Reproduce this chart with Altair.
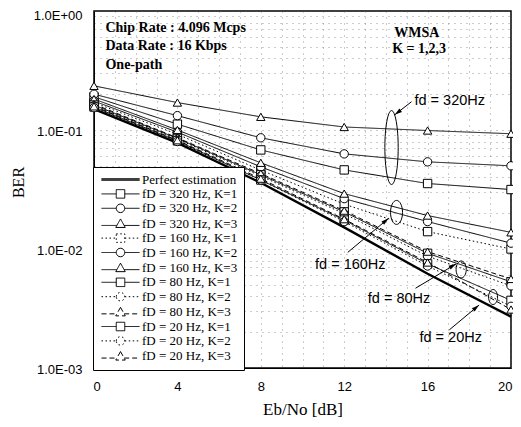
import altair as alt
import pandas as pd

# ---------------- data ----------------
EBNO = [0, 4, 8, 12, 16, 20]

SERIES = [
    "Perfect estimation",
    "fD = 320 Hz, K=1", "fD = 320 Hz, K=2", "fD = 320 Hz, K=3",
    "fD = 160 Hz, K=1", "fD = 160 Hz, K=2", "fD = 160 Hz, K=3",
    "fD = 80 Hz, K=1", "fD = 80 Hz, K=2", "fD = 80 Hz, K=3",
    "fD = 20 Hz, K=1", "fD = 20 Hz, K=2", "fD = 20 Hz, K=3",
]

BER_PERFECT = [0.150, 0.078, 0.036, 0.0152, 0.0062, 0.0027]
BER_320_K1 = [0.190, 0.112, 0.068, 0.0462, 0.0355, 0.0316]
BER_320_K2 = [0.200, 0.132, 0.086, 0.063, 0.054, 0.050]
BER_320_K3 = [0.235, 0.170, 0.129, 0.106, 0.099, 0.093]
BER_160_K1 = [0.170, 0.092, 0.046, 0.0238, 0.0140, 0.0100]
BER_160_K2 = [0.175, 0.096, 0.049, 0.0265, 0.0170, 0.0112]
BER_160_K3 = [0.182, 0.100, 0.053, 0.0292, 0.0191, 0.0138]
BER_80_K1 = [0.162, 0.085, 0.042, 0.0205, 0.0092, 0.0053]
BER_80_K2 = [0.160, 0.084, 0.041, 0.0198, 0.0087, 0.0049]
BER_80_K3 = [0.165, 0.086, 0.043, 0.0210, 0.0095, 0.0056]
BER_20_K1 = [0.156, 0.081, 0.038, 0.0175, 0.0075, 0.0037]
BER_20_K2 = [0.154, 0.080, 0.038, 0.0170, 0.0072, 0.0033]
BER_20_K3 = [0.158, 0.082, 0.039, 0.0178, 0.0077, 0.0031]

BER_ALL = [BER_PERFECT, BER_320_K1, BER_320_K2, BER_320_K3,
           BER_160_K1, BER_160_K2, BER_160_K3,
           BER_80_K1, BER_80_K2, BER_80_K3,
           BER_20_K1, BER_20_K2, BER_20_K3]

X_GRID = list(range(0, 21))

NOTE_TEXT = ["Chip Rate : 4.096 Mcps", "Data Rate : 16 Kbps", "One-path"]
NOTE_X = [0.55, 0.55, 0.55]
NOTE_Y = [0.72, 0.51, 0.355]

WMSA_TEXT = ["WMSA", "K = 1,2,3"]
WMSA_X = [14.4, 14.3]
WMSA_Y = [0.654, 0.48]

FD_TEXT = ["fd = 320Hz", "fd = 160Hz", "fd = 80Hz", "fd  = 20Hz"]
FD_X = [15.37, 10.6, 13.13, 15.61]
FD_Y = [0.176, 0.00729, 0.00378, 0.00178]

ARROW_X1 = [15.23, 12.17, 15.42, 17.04]
ARROW_Y1 = [0.173, 0.00937, 0.00468, 0.00209]
ARROW_X2 = [14.42, 14.13, 17.37, 18.47]
ARROW_Y2 = [0.134, 0.0181, 0.0075, 0.00338]

ELLIPSE_X = [14.27, 14.51, 17.61, 19.14]
ELLIPSE_Y = [0.0712, 0.0203, 0.00673, 0.00395]

# ---------------- styles ----------------
SOLID, DOT, DASH = [1, 0], [1.5, 2.5], [5, 3]
LINE_DASH = [SOLID, SOLID, SOLID, SOLID, DOT, SOLID, SOLID,
             SOLID, DOT, DASH, SOLID, DOT, DASH]
PLOT_SHAPES = ["square", "circle", "triangle-up"] * 4

P_LINE = "M-3.8,-0.2H3.8M-3.8,0H3.8M-3.8,0.2H3.8"
P_SQ = "M-3.8,0H-0.85M0.85,0H3.8M-0.85,-0.85H0.85V0.85H-0.85Z"
P_CI = "M-3.8,0H-0.85M0.85,0H3.8M-0.85,0A0.85,0.85 0 1,1 0.85,0A0.85,0.85 0 1,1 -0.85,0Z"
P_TR = "M-3.8,0.35H-0.73M0.73,0.35H3.8M0,-0.95L0.95,0.75H-0.95Z"
LEGEND_PATHS = [P_LINE] + [P_SQ, P_CI, P_TR] * 4

ARROW_ANGLE = [232.6, 50.3, 59.7, 50.2]
ARROW_PATH = "M0,0L0.45,1.6L-0.45,1.6Z"
ELLIPSE_PATH = [
    "M0,-1A0.18,1 0 1,1 0,1A0.18,1 0 1,1 0,-1Z",
    "M0,-1A0.5,1 0 1,1 0,1A0.5,1 0 1,1 0,-1Z",
    "M0,-1A0.6,1 0 1,1 0,1A0.6,1 0 1,1 0,-1Z",
    "M0,-1A0.6,1 0 1,1 0,1A0.6,1 0 1,1 0,-1Z",
]
ELLIPSE_SIZE = [74 ** 2, 24 ** 2, 17 ** 2, 15 ** 2]

# ---------------- tables ----------------
rows = []
for name, vals in zip(SERIES, BER_ALL):
    for x, v in zip(EBNO, vals):
        rows.append({"series": name, "ebno": x, "ber": v})
df = pd.DataFrame(rows)

notes = pd.DataFrame({"x": NOTE_X, "y": NOTE_Y, "t": NOTE_TEXT})
wmsa = pd.DataFrame({"x": WMSA_X, "y": WMSA_Y, "t": WMSA_TEXT})
fds = pd.DataFrame({"x": FD_X, "y": FD_Y, "t": FD_TEXT})
arrows = pd.DataFrame({"x": ARROW_X1, "y": ARROW_Y1, "x2": ARROW_X2, "y2": ARROW_Y2,
                       "a": ARROW_ANGLE})
ellipses = pd.DataFrame({"x": ELLIPSE_X, "y": ELLIPSE_Y, "p": ELLIPSE_PATH, "s": ELLIPSE_SIZE})

XS = alt.Scale(domain=[0, 20], nice=False, zero=False)
YS = alt.Scale(type="log", domain=[0.001, 1], nice=False)

y_grid_vals = []
for d in [0.001, 0.01, 0.1]:
    for k in range(1, 10):
        y_grid_vals.append(round(k * d, 6))
y_grid_vals.append(1)

X_AXIS = alt.Axis(values=X_GRID, title="Eb/No [dB]",
                  labelExpr="datum.value % 4 == 0 ? datum.label : ''",
                  labelOverlap=False, labelFlush=True, labelFlushOffset=1, ticks=False,
                  labelFont="Liberation Sans", labelFontSize=13, labelColor="black",
                  labelPadding=12, titleFont="Liberation Serif", titleFontSize=17,
                  titleFontWeight="normal", titleColor="black", titlePadding=8,
                  grid=True, gridDash=[1, 5], gridColor="#555", gridOpacity=0.6,
                  domainColor="black")
Y_AXIS = alt.Axis(values=y_grid_vals, title="BER",
                  labelExpr="abs(log(datum.value)/LN10 - round(log(datum.value)/LN10)) < 1e-6 ? (datum.value >= 1 ? '1.0E+00' : '1.0E-0' + round(-log(datum.value)/LN10)) : ''",
                  labelOverlap=False, labelFlush=False, ticks=False,
                  labelOffset={"condition": {"test": "datum.value >= 1", "value": 4}, "value": 1},
                  labelFont="Liberation Sans", labelFontSize=13, labelColor="black",
                  labelPadding=12, titleFont="Liberation Serif", titleFontSize=16,
                  titleFontWeight="normal", titleColor="black", titlePadding=7,
                  titleY=171,
                  grid=True, gridDash=[1, 5], gridColor="#555", gridOpacity=0.6,
                  domainColor="black")


def X(f):
    return alt.X(f, type="quantitative", scale=XS, axis=X_AXIS)


def Y(f):
    return alt.Y(f, type="quantitative", scale=YS, axis=Y_AXIS)


others = [s for s in SERIES if s != "Perfect estimation"]

lines = alt.Chart(df).transform_filter(
    alt.datum.series != "Perfect estimation"
).mark_line(color="black", strokeWidth=1).encode(
    x=X("ebno"), y=Y("ber"), detail="series:N", order="ebno:Q",
    strokeDash=alt.StrokeDash("series:N", scale=alt.Scale(domain=others, range=LINE_DASH[1:]),
                              legend=None),
)

perfect = alt.Chart(df).transform_filter(
    alt.datum.series == "Perfect estimation"
).mark_line(color="black", strokeWidth=2.4).encode(
    x=X("ebno"), y=Y("ber"), order="ebno:Q",
)

points = alt.Chart(df).transform_filter(
    alt.datum.series != "Perfect estimation"
).mark_point(filled=True, fill="white", stroke="black", strokeWidth=1, size=70, opacity=1).encode(
    x=X("ebno"), y=Y("ber"),
    shape=alt.Shape("series:N", scale=alt.Scale(domain=others, range=PLOT_SHAPES), legend=None),
)

LEG = dict(orient="none", legendX=-1, legendY=156, title=None, padding=6,
           strokeColor="black", fillColor="white", labelFont="Liberation Serif",
           labelFontSize=13, labelColor="black", symbolSize=100, symbolStrokeWidth=1,
           symbolOffset=15, labelOffset=15, rowPadding=0.4, labelLimit=220)

legend_layer = alt.Chart(df).transform_filter("false").mark_point(
    filled=False, color="black", size=100, strokeWidth=1, opacity=1
).encode(
    x=X("ebno"), y=Y("ber"),
    shape=alt.Shape("series:N", scale=alt.Scale(domain=SERIES, range=LEGEND_PATHS),
                    legend=alt.Legend(**LEG)),
    strokeDash=alt.StrokeDash("series:N", scale=alt.Scale(domain=SERIES, range=LINE_DASH),
                              legend=alt.Legend(**LEG)),
)

note_layer = alt.Chart(notes).mark_text(
    align="left", baseline="middle", font="Liberation Serif", fontSize=14,
    fontWeight="bold", color="black"
).encode(x=X("x"), y=Y("y"), text="t:N")

wmsa_layer = alt.Chart(wmsa).mark_text(
    align="left", baseline="middle", font="Liberation Serif", fontSize=14,
    fontWeight="bold", color="black"
).encode(x=X("x"), y=Y("y"), text="t:N")

fd_layer = alt.Chart(fds).mark_text(
    align="left", baseline="middle", font="Liberation Sans", fontSize=14.5, color="black"
).encode(x=X("x"), y=Y("y"), text="t:N")

arrow_lines = alt.Chart(arrows).mark_rule(color="black", strokeWidth=1).encode(
    x=X("x"), y=Y("y"), x2="x2:Q", y2="y2:Q")

arrow_heads = alt.Chart(arrows).mark_point(
    shape=ARROW_PATH, filled=True, color="black", size=90, opacity=1
).encode(x=X("x2"), y=Y("y2"), angle=alt.Angle("a:Q", scale=None))

ellipse_layer = alt.Chart(ellipses).mark_point(
    filled=False, color="black", strokeWidth=1, opacity=1
).encode(
    x=X("x"), y=Y("y"),
    shape=alt.Shape("p:N", scale=None),
    size=alt.Size("s:Q", scale=None),
)

chart = alt.layer(
    lines, perfect, points, ellipse_layer, arrow_lines, arrow_heads,
    note_layer, wmsa_layer, fd_layer, legend_layer
).resolve_scale(
    shape="independent", strokeDash="independent"
).properties(
    width=417, height=357, autosize="none",
    padding={"left": 86, "top": 3, "right": 2, "bottom": 51},
).configure_view(stroke="black", strokeWidth=1.5)

chart.save("out.html", embed_options={"renderer": "svg", "actions": False})
